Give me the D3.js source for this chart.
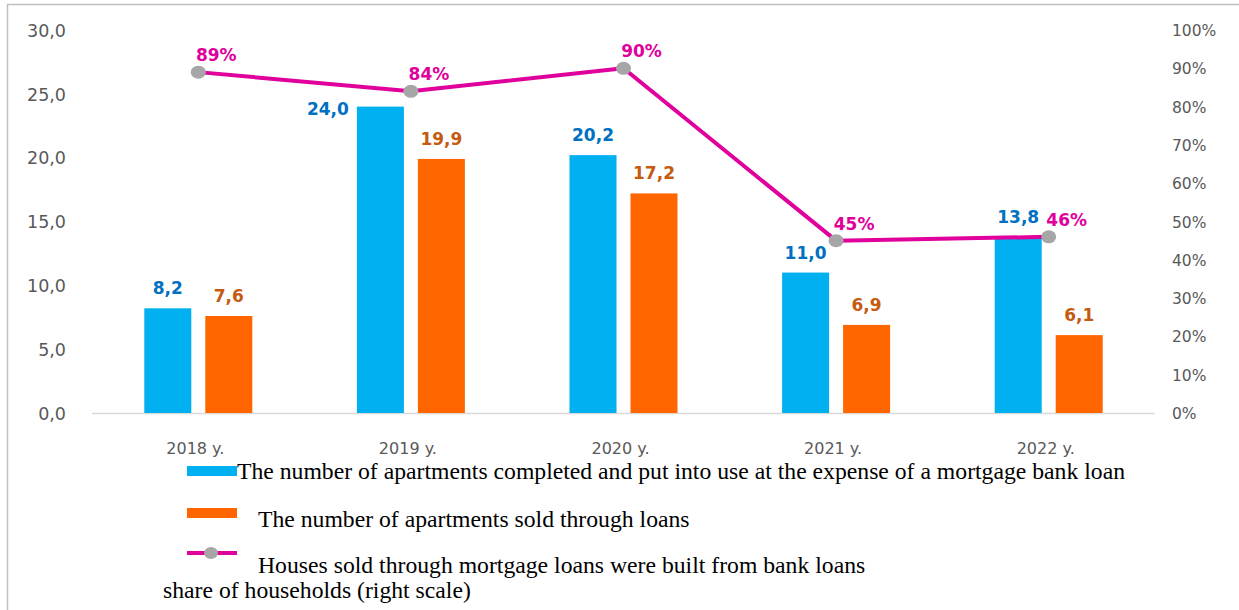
<!DOCTYPE html>
<html>
<head>
<meta charset="utf-8">
<script src="https://cdn.jsdelivr.net/npm/d3@7"></script>
<style>
  body { margin: 0; background: #fff; }
  svg { display: block; }
</style>
</head>
<body>
<div id="chart"></div>
<script>
// data
const years = ["2018 y.", "2019 y.", "2020 y.", "2021 y.", "2022 y."];
const completed = [8.2, 24.0, 20.2, 11.0, 13.8];
const soldLoans = [7.6, 19.9, 17.2, 6.9, 6.1];
const shareHouseholds = [89, 84, 90, 45, 46];
const leftTicks = [0, 5, 10, 15, 20, 25, 30];
const rightTicks = [0, 10, 20, 30, 40, 50, 60, 70, 80, 90, 100];
const legendLabels = [
  "The number of apartments completed and put into use at the expense of a mortgage bank loan",
  "The number of apartments sold through loans",
  "Houses sold through mortgage loans were built from bank loans",
  "share of households (right scale)"
];

const width = 1239, height = 610;
const margin = { top: 30, right: 84, bottom: 197, left: 92 };

const blue = "#00b0f0", orange = "#ff6600", pink = "#e0009c", grey = "#a6a6a6";
const blueText = "#0070c0", orangeText = "#c55a11", pinkText = "#e0009c";
const tickColor = "#595959";

const svg = d3.select("#chart").append("svg")
  .attr("width", width)
  .attr("height", height);

// outer frame (only top and left edges visible)
svg.append("path")
  .attr("d", `M7.5,${height + 5} V4.5 H${width + 5}`)
  .attr("fill", "none")
  .attr("stroke", "#bfbfbf")
  .attr("stroke-width", 1.5);

const x = d3.scaleBand()
  .domain(years)
  .range([margin.left, width - margin.right]);

const y = d3.scaleLinear()
  .domain([0, 30])
  .range([height - margin.bottom, margin.top]);

const y2 = d3.scaleLinear()
  .domain([0, 100])
  .range([height - margin.bottom, margin.top]);

// left axis
svg.append("g")
  .attr("transform", `translate(${margin.left - 26},0)`)
  .call(d3.axisLeft(y).tickValues(leftTicks).tickSize(0).tickPadding(0)
    .tickFormat(d => d3.format(".1f")(d).replace(".", ",")))
  .call(g => g.select(".domain").remove())
  .call(g => g.selectAll("text")
    .attr("fill", tickColor)
    .attr("font-family", "DejaVu Sans")
    .attr("font-size", 17.5)
    .attr("dy", "0.36em"));

// right axis
svg.append("g")
  .attr("transform", `translate(${width - margin.right + 17},0)`)
  .call(d3.axisRight(y2).tickValues(rightTicks).tickSize(0).tickPadding(0)
    .tickFormat(d => d + "%"))
  .call(g => g.select(".domain").remove())
  .call(g => g.selectAll("text")
    .attr("fill", tickColor)
    .attr("font-family", "DejaVu Sans")
    .attr("font-size", 15.5)
    .attr("dy", "0.36em"));

// baseline
svg.append("line")
  .attr("x1", margin.left).attr("x2", width - margin.right)
  .attr("y1", y(0) + 0.5).attr("y2", y(0) + 0.5)
  .attr("stroke", "#d9d9d9")
  .attr("stroke-width", 1.5);

// category labels
svg.append("g")
  .attr("transform", `translate(-3,${y(0) + 41})`)
  .call(d3.axisBottom(x).tickSize(0).tickPadding(0))
  .call(g => g.select(".domain").remove())
  .call(g => g.selectAll("text")
    .attr("fill", tickColor)
    .attr("font-family", "DejaVu Sans")
    .attr("font-size", 16)
    .attr("dy", 0));

const barW = 47, gap = 14;
const off = (barW + gap) / 2;

// bars
const bars = svg.append("g");
bars.selectAll(".blue")
  .data(years)
  .join("rect")
  .attr("x", d => x(d) + x.bandwidth() / 2 - off - barW / 2)
  .attr("y", (d, i) => y(completed[i]))
  .attr("width", barW)
  .attr("height", (d, i) => y(0) - y(completed[i]))
  .attr("fill", blue);

bars.selectAll(".orange")
  .data(years)
  .join("rect")
  .attr("x", d => x(d) + x.bandwidth() / 2 + off - barW / 2)
  .attr("y", (d, i) => y(soldLoans[i]))
  .attr("width", barW)
  .attr("height", (d, i) => y(0) - y(soldLoans[i]))
  .attr("fill", orange);

const fmt = v => d3.format(".1f")(v).replace(".", ",");

// bar labels; 2019 blue label sits left of the bar (line passes above it)
svg.append("g").selectAll("text")
  .data(years)
  .join("text")
  .attr("x", (d, i) => i === 1
    ? x(d) + x.bandwidth() / 2 - off - barW / 2 - 8
    : x(d) + x.bandwidth() / 2 - off)
  .attr("y", (d, i) => i === 1 ? y(completed[i]) + 8 : y(completed[i]) - 14)
  .attr("text-anchor", (d, i) => i === 1 ? "end" : "middle")
  .attr("font-family", "DejaVu Sans")
  .attr("font-weight", "bold")
  .attr("font-size", 17)
  .attr("fill", blueText)
  .text((d, i) => fmt(completed[i]));

svg.append("g").selectAll("text")
  .data(years)
  .join("text")
  .attr("x", d => x(d) + x.bandwidth() / 2 + off)
  .attr("y", (d, i) => y(soldLoans[i]) - 14)
  .attr("text-anchor", "middle")
  .attr("font-family", "DejaVu Sans")
  .attr("font-weight", "bold")
  .attr("font-size", 17)
  .attr("fill", orangeText)
  .text((d, i) => fmt(soldLoans[i]));

// line series
const cx = d => x(d) + x.bandwidth() / 2;
const line = d3.line()
  .x(d => cx(d))
  .y((d, i) => y2(shareHouseholds[i]));

svg.append("path")
  .datum(years)
  .attr("d", line)
  .attr("fill", "none")
  .attr("stroke", pink)
  .attr("stroke-width", 4)
  .attr("stroke-linejoin", "round");

svg.append("g").selectAll("ellipse")
  .data(years)
  .join("ellipse")
  .attr("cx", cx)
  .attr("cy", (d, i) => y2(shareHouseholds[i]))
  .attr("rx", 7.5)
  .attr("ry", 6.5)
  .attr("fill", grey);

svg.append("g").selectAll("text")
  .data(years)
  .join("text")
  .attr("x", d => cx(d) + 18)
  .attr("y", (d, i) => y2(shareHouseholds[i]) - 11)
  .attr("text-anchor", "middle")
  .attr("font-family", "DejaVu Sans")
  .attr("font-weight", "bold")
  .attr("font-size", 17)
  .attr("fill", pinkText)
  .text((d, i) => shareHouseholds[i] + "%");

// legend
const legend = svg.append("g")
  .attr("font-family", "Liberation Serif")
  .attr("font-size", 23.7)
  .attr("fill", "#000");

legend.append("rect")
  .attr("x", 187).attr("y", 466).attr("width", 50).attr("height", 10)
  .attr("fill", blue);
legend.append("text").attr("x", 237).attr("y", 479).text(legendLabels[0]);

legend.append("rect")
  .attr("x", 187).attr("y", 508).attr("width", 50).attr("height", 10)
  .attr("fill", orange);
legend.append("text").attr("x", 258).attr("y", 527).text(legendLabels[1]);

legend.append("line")
  .attr("x1", 187).attr("x2", 237).attr("y1", 553).attr("y2", 553)
  .attr("stroke", pink).attr("stroke-width", 4);
legend.append("ellipse")
  .attr("cx", 211).attr("cy", 553).attr("rx", 7).attr("ry", 6)
  .attr("fill", grey);
legend.append("text").attr("x", 258).attr("y", 573).text(legendLabels[2]);
legend.append("text").attr("x", 163).attr("y", 598).text(legendLabels[3]);
</script>
</body>
</html>
